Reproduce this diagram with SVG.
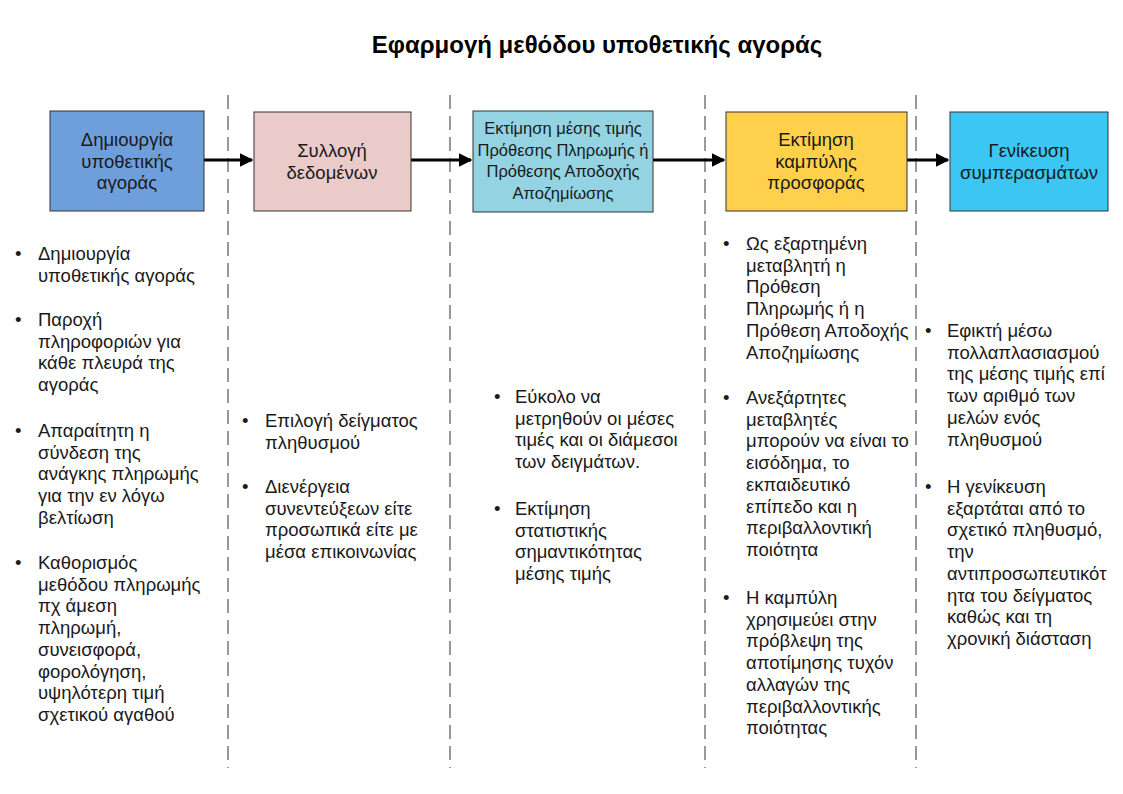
<svg xmlns="http://www.w3.org/2000/svg" width="1123" height="794" viewBox="0 0 1123 794">
<style>
text{font-family:"Liberation Sans",Arial,sans-serif;font-size:18.5px;fill:#1a1a1a}
.title{font-size:24px;font-weight:bold;fill:#000}
.c{text-anchor:middle}
.bt3{font-size:16.5px}
.box{stroke:#333;stroke-width:1}
.div{stroke:#333;stroke-width:1;stroke-dasharray:14 7;fill:none}
.conn{stroke:#000;stroke-width:3;fill:none}
</style>
<defs>
<marker id="ah" viewBox="0 0 10 10" refX="9" refY="5" markerWidth="4.5" markerHeight="4.5" orient="auto" markerUnits="strokeWidth">
<path d="M0,0L10,5L0,10z" fill="#000"/>
</marker>
</defs>
<rect width="1123" height="794" fill="#fff"/>
<text class="title c" x="597" y="53">Εφαρμογή μεθόδου υποθετικής αγοράς</text>
<g id="dividers">
<line class="div" x1="228" y1="95" x2="228" y2="768"/>
<line class="div" x1="450" y1="95" x2="450" y2="768"/>
<line class="div" x1="705" y1="95" x2="705" y2="768"/>
<line class="div" x1="916" y1="95" x2="916" y2="768"/>
</g>
<g id="connectors">
<line class="conn" x1="204" y1="160" x2="252" y2="160" marker-end="url(#ah)"/>
<line class="conn" x1="411" y1="160" x2="471" y2="160" marker-end="url(#ah)"/>
<line class="conn" x1="653" y1="160" x2="724" y2="160" marker-end="url(#ah)"/>
<line class="conn" x1="907" y1="160" x2="948" y2="160" marker-end="url(#ah)"/>
</g>
<g id="n1">
<rect class="box" x="50" y="111" width="154" height="100" fill="#6f9fdb"/>
<text class="c" x="127" y="146">Δημιουργία<tspan x="127" dy="21.7">υποθετικής</tspan><tspan x="127" dy="21.7">αγοράς</tspan></text>
</g>
<g id="n2">
<rect class="box" x="254" y="112" width="157" height="99" fill="#ebcbc9"/>
<text class="c" x="332" y="157">Συλλογή<tspan x="332" dy="21.7">δεδομένων</tspan></text>
</g>
<g id="n3">
<rect class="box" x="473" y="111" width="180" height="101" fill="#93d3e2"/>
<text class="c bt3" x="563" y="134">Εκτίμηση μέσης τιμής<tspan x="563" dy="21.7">Πρόθεσης Πληρωμής ή</tspan><tspan x="563" dy="21.7">Πρόθεσης Αποδοχής</tspan><tspan x="563" dy="21.7">Αποζημίωσης</tspan></text>
</g>
<g id="n4">
<rect class="box" x="726" y="112" width="181" height="99" fill="#fed04b"/>
<text class="c" x="816" y="146">Εκτίμηση<tspan x="816" dy="21.7">καμπύλης</tspan><tspan x="816" dy="21.7">προσφοράς</tspan></text>
</g>
<g id="n5">
<rect class="box" x="950" y="112" width="158" height="99" fill="#3bc6f4"/>
<text class="c" x="1029" y="157">Γενίκευση<tspan x="1029" dy="21.7">συμπερασμάτων</tspan></text>
</g>
<g id="col1">
<text x="15" y="260">•</text>
<text x="38" y="260">Δημιουργία<tspan x="38" dy="21.7">υποθετικής αγοράς</tspan></text>
<text x="15" y="326">•</text>
<text x="38" y="326">Παροχή<tspan x="38" dy="21.7">πληροφοριών για</tspan><tspan x="38" dy="21.7">κάθε πλευρά της</tspan><tspan x="38" dy="21.7">αγοράς</tspan></text>
<text x="15" y="437">•</text>
<text x="38" y="437">Απαραίτητη η<tspan x="38" dy="21.7">σύνδεση της</tspan><tspan x="38" dy="21.7">ανάγκης πληρωμής</tspan><tspan x="38" dy="21.7">για την εν λόγω</tspan><tspan x="38" dy="21.7">βελτίωση</tspan></text>
<text x="15" y="569">•</text>
<text x="38" y="569">Καθορισμός<tspan x="38" dy="21.7">μεθόδου πληρωμής</tspan><tspan x="38" dy="21.7">πχ άμεση</tspan><tspan x="38" dy="21.7">πληρωμή,</tspan><tspan x="38" dy="21.7">συνεισφορά,</tspan><tspan x="38" dy="21.7">φορολόγηση,</tspan><tspan x="38" dy="21.7">υψηλότερη τιμή</tspan><tspan x="38" dy="21.7">σχετικού αγαθού</tspan></text>
</g>
<g id="col2">
<text x="242" y="427">•</text>
<text x="265" y="427">Επιλογή δείγματος<tspan x="265" dy="21.7">πληθυσμού</tspan></text>
<text x="242" y="493">•</text>
<text x="265" y="493">Διενέργεια<tspan x="265" dy="21.7">συνεντεύξεων είτε</tspan><tspan x="265" dy="21.7">προσωπικά είτε με</tspan><tspan x="265" dy="21.7">μέσα επικοινωνίας</tspan></text>
</g>
<g id="col3">
<text x="494" y="403">•</text>
<text x="515" y="403">Εύκολο να<tspan x="515" dy="21.7">μετρηθούν οι μέσες</tspan><tspan x="515" dy="21.7">τιμές και οι διάμεσοι</tspan><tspan x="515" dy="21.7">των δειγμάτων.</tspan></text>
<text x="494" y="515">•</text>
<text x="515" y="515">Εκτίμηση<tspan x="515" dy="21.7">στατιστικής</tspan><tspan x="515" dy="21.7">σημαντικότητας</tspan><tspan x="515" dy="21.7">μέσης τιμής</tspan></text>
</g>
<g id="col4">
<text x="723" y="250">•</text>
<text x="746" y="250">Ως εξαρτημένη<tspan x="746" dy="21.7">μεταβλητή η</tspan><tspan x="746" dy="21.7">Πρόθεση</tspan><tspan x="746" dy="21.7">Πληρωμής ή η</tspan><tspan x="746" dy="21.7">Πρόθεση Αποδοχής</tspan><tspan x="746" dy="21.7">Αποζημίωσης</tspan></text>
<text x="723" y="404">•</text>
<text x="746" y="404">Ανεξάρτητες<tspan x="746" dy="21.7">μεταβλητές</tspan><tspan x="746" dy="21.7">μπορούν να είναι το</tspan><tspan x="746" dy="21.7">εισόδημα, το</tspan><tspan x="746" dy="21.7">εκπαιδευτικό</tspan><tspan x="746" dy="21.7">επίπεδο και η</tspan><tspan x="746" dy="21.7">περιβαλλοντική</tspan><tspan x="746" dy="21.7">ποιότητα</tspan></text>
<text x="723" y="604">•</text>
<text x="746" y="604">Η καμπύλη<tspan x="746" dy="21.7">χρησιμεύει στην</tspan><tspan x="746" dy="21.7">πρόβλεψη της</tspan><tspan x="746" dy="21.7">αποτίμησης τυχόν</tspan><tspan x="746" dy="21.7">αλλαγών της</tspan><tspan x="746" dy="21.7">περιβαλλοντικής</tspan><tspan x="746" dy="21.7">ποιότητας</tspan></text>
</g>
<g id="col5">
<text x="925" y="337">•</text>
<text x="947" y="337">Εφικτή μέσω<tspan x="947" dy="21.7">πολλαπλασιασμού</tspan><tspan x="947" dy="21.7">της μέσης τιμής επί</tspan><tspan x="947" dy="21.7">των αριθμό των</tspan><tspan x="947" dy="21.7">μελών ενός</tspan><tspan x="947" dy="21.7">πληθυσμού</tspan></text>
<text x="925" y="493">•</text>
<text x="947" y="493">Η γενίκευση<tspan x="947" dy="21.7">εξαρτάται από το</tspan><tspan x="947" dy="21.7">σχετικό πληθυσμό,</tspan><tspan x="947" dy="21.7">την</tspan><tspan x="947" dy="21.7">αντιπροσωπευτικότ</tspan><tspan x="947" dy="21.7">ητα του δείγματος</tspan><tspan x="947" dy="21.7">καθώς και τη</tspan><tspan x="947" dy="21.7">χρονική διάσταση</tspan></text>
</g>
</svg>
